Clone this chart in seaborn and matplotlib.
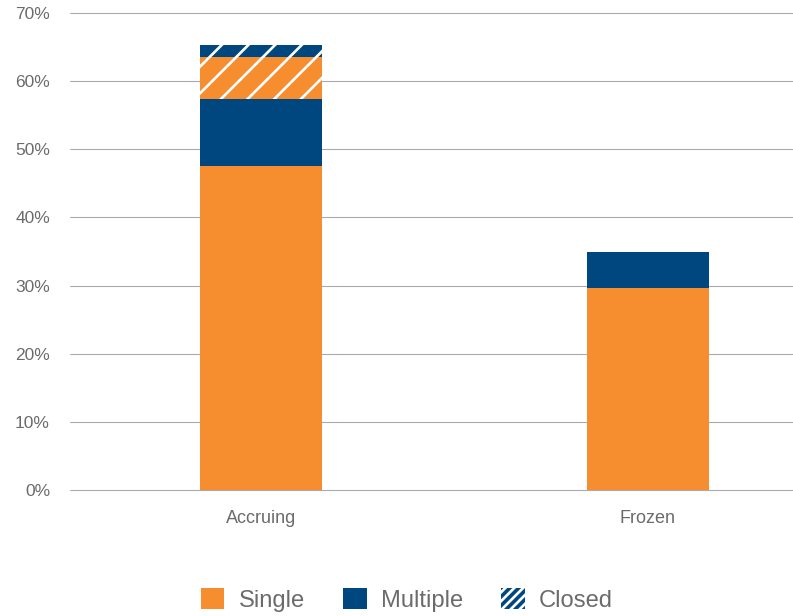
#Stacked bar chart: share of accruing vs frozen, split by single / multiple / closed

#Dependencies
import pandas as pd
import matplotlib
matplotlib.use("Agg")
import matplotlib.pyplot as plt
from matplotlib.patches import Patch
from matplotlib.ticker import PercentFormatter
import seaborn as sns

#Values (percent)
categories = ["Accruing", "Frozen"]
single = [47.6, 29.7]
multiple = [9.8, 5.2]
closed_single = [6.2, 0.0]
closed_multiple = [1.7, 0.0]

orange = "#F68D2E"
navy = "#00477F"
grey_text = "#6b6b6b"

df = pd.DataFrame({"Category": categories, "Single": single, "Multiple": multiple,
                   "Closed single": closed_single, "Closed multiple": closed_multiple})
#cumulative tops so the layers can be drawn from the tallest down
df["top_single"] = df["Single"]
df["top_multiple"] = df["top_single"] + df["Multiple"]
df["top_closed_single"] = df["top_multiple"] + df["Closed single"]
df["top_closed_multiple"] = df["top_closed_single"] + df["Closed multiple"]

sns.set_theme(style="white")
plt.rcParams["font.family"] = ["Liberation Sans", "DejaVu Sans"]
plt.rcParams["hatch.linewidth"] = 1.2

dpi = 160
fig = plt.figure(figsize=(793 / dpi, 616 / dpi), dpi=dpi)
ax = fig.add_axes([70 / 793, 1 - 490 / 616, 1 - 70 / 793, (490 - 13) / 616])

bar_w = 0.313
layers = [("top_closed_multiple", "Closed multiple", navy, True),
          ("top_closed_single", "Closed single", orange, True),
          ("top_multiple", "Multiple", navy, False),
          ("top_single", "Single", orange, False)]
for col, seg, colour, hatched in layers:
    sub = df[df[seg] > 0]
    n0 = len(ax.patches)
    sns.barplot(data=sub, x="Category", y=col, order=categories, color=colour,
                saturation=1, width=bar_w, errorbar=None, ax=ax)
    for p in ax.patches[n0:]:
        p.set_linewidth(0)
        if hatched:
            p.set_hatch("//")
            p.set_edgecolor("white")

ax.set_ylim(0, 70)
ax.set_xlim(-0.4935, 1.3747)
ax.yaxis.set_major_formatter(PercentFormatter(decimals=0))
ax.set_yticks(range(0, 71, 10))
ax.grid(axis="y", color="#aaaaaa", linewidth=0.5)
for gl in ax.get_ygridlines():
    gl.set_clip_on(False)
ax.set_axisbelow(True)
for s in ax.spines.values():
    s.set_visible(False)
ax.set_xlabel("")
ax.set_ylabel("")
ax.tick_params(axis="y", length=0, pad=9, labelsize=7.8, labelcolor=grey_text)
ax.tick_params(axis="x", length=0, pad=9, labelsize=8.1, labelcolor=grey_text)

handles = [Patch(facecolor=orange, edgecolor=orange, linewidth=0, label="Single"),
           Patch(facecolor=navy, edgecolor=navy, linewidth=0, label="Multiple"),
           Patch(facecolor=navy, edgecolor="white", linewidth=0, hatch="//////", label="Closed")]
leg = fig.legend(handles=handles, loc="center", bbox_to_anchor=(0.513, 1 - 600 / 616),
                 ncol=3, frameon=False, fontsize=10.7, handlelength=1.0, handleheight=1.0,
                 handletextpad=0.6, columnspacing=1.6)
for t in leg.get_texts():
    t.set_color(grey_text)

plt.savefig("out.png", dpi=dpi)
